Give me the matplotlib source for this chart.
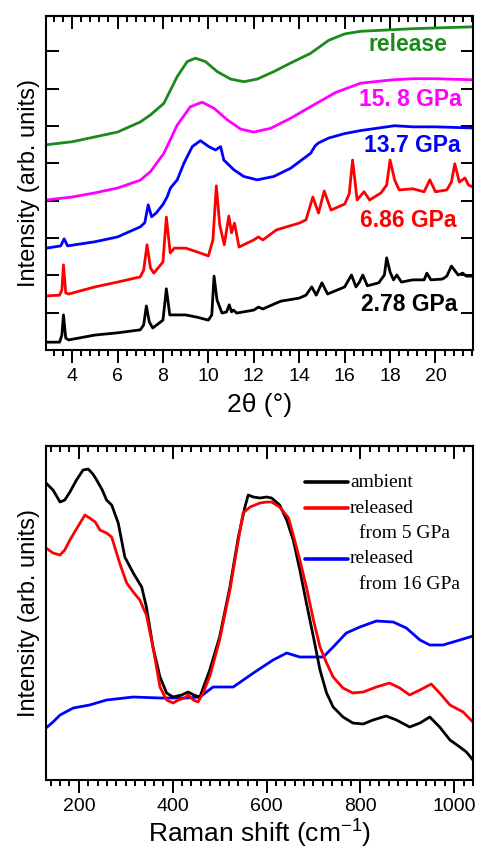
import matplotlib
matplotlib.use("Agg")
import matplotlib.pyplot as plt
from matplotlib.ticker import MultipleLocator, AutoMinorLocator

plt.rcParams['font.family'] = ['Liberation Sans', 'DejaVu Sans']
plt.rcParams['mathtext.default'] = 'regular'

# ---------------- XRD data (top panel) ----------------
x_278 = [2.87, 3.45, 3.55, 3.62, 3.72, 3.85, 5, 6, 7, 7.15, 7.27, 7.4, 7.55, 8.0, 8.15, 8.3, 8.5, 9, 9.5,
         10.0, 10.15, 10.25, 10.38, 10.6, 10.8, 10.92, 11.02, 11.1, 11.25, 12, 12.2, 12.4, 13, 13.2, 14, 14.3,
         14.55, 14.75, 15.0, 15.25, 16.0, 16.3, 16.5, 16.65, 16.8, 17.0, 17.5, 17.75, 17.85, 18.0, 18.15, 18.3,
         18.5, 19.0, 19.5, 19.62, 19.8, 20.3, 20.5, 20.7, 20.9, 21.0, 21.2, 21.35, 21.65]
y_278 = [0.21, 0.21, 0.40, 0.94, 0.32, 0.27, 0.40, 0.46, 0.54, 0.67, 1.18, 0.75, 0.59, 0.80, 1.64, 0.94, 0.94,
         0.94, 0.88, 0.80, 0.94, 1.98, 1.34, 0.99, 1.02, 1.21, 1.02, 1.07, 0.99, 1.07, 1.15, 1.10, 1.26, 1.31,
         1.39, 1.47, 1.69, 1.47, 1.80, 1.50, 1.69, 2.01, 1.69, 1.82, 2.01, 1.72, 1.80, 2.01, 2.47, 2.09, 1.88,
         2.01, 1.82, 1.88, 1.88, 2.06, 1.88, 1.90, 1.98, 2.25, 2.09, 2.01, 2.06, 1.98, 1.98]

x_686 = [2.87, 3.45, 3.55, 3.62, 3.72, 3.85, 5, 6, 7.0, 7.15, 7.3, 7.45, 7.6, 8.0, 8.15, 8.32, 8.5, 9.0, 9.5,
         10.0, 10.2, 10.35, 10.5, 10.7, 10.9, 11.02, 11.15, 11.35, 12.0, 12.2, 12.4, 13, 14, 14.3, 14.6, 14.85,
         15.1, 15.4, 16.0, 16.2, 16.35, 16.55, 16.85, 17.1, 17.6, 17.85, 18.0, 18.2, 18.4, 19.0, 19.5, 19.75,
         20.0, 20.5, 20.7, 20.85, 21.05, 21.3, 21.45, 21.65]
y_686 = [1.45, 1.47, 1.61, 2.28, 1.53, 1.50, 1.69, 1.82, 1.96, 2.14, 2.82, 2.20, 2.06, 2.36, 3.56, 2.60, 2.73,
         2.73, 2.63, 2.52, 2.95, 4.40, 3.35, 2.82, 3.59, 3.14, 3.40, 2.76, 2.95, 3.03, 2.95, 3.22, 3.40, 3.49,
         4.10, 3.67, 4.26, 3.75, 3.91, 4.18, 5.09, 4.02, 4.24, 4.02, 4.21, 4.42, 5.09, 4.56, 4.29, 4.32, 4.24,
         4.56, 4.24, 4.29, 4.50, 4.99, 4.50, 4.61, 4.42, 4.37]

x_137 = [2.87, 3.5, 3.65, 3.8, 5, 6, 7.0, 7.2, 7.35, 7.5, 7.7, 8.0, 8.19, 8.33, 8.63, 8.92, 9.29, 9.65, 10.02,
         10.31, 10.54, 10.68, 11.12, 11.56, 12.15, 12.88, 13.62, 14.5, 14.7, 14.85, 15.3, 16.0, 16.7, 18.2, 19,
         20, 21.65]
y_137 = [2.73, 2.79, 2.98, 2.79, 2.90, 3.03, 3.30, 3.41, 3.89, 3.57, 3.67, 3.90, 4.11, 4.34, 4.56, 5.00, 5.45,
         5.61, 5.45, 5.36, 5.45, 5.09, 4.83, 4.65, 4.56, 4.65, 4.87, 5.27, 5.47, 5.55, 5.68, 5.80, 5.88, 6.01,
         5.98, 5.98, 5.95]

x_158 = [2.87, 4, 5, 6, 7, 7.45, 8.04, 8.63, 9.21, 9.73, 10.24, 10.83, 11.42, 12.0, 12.74, 13.62, 14.5, 15.6,
         16.7, 18.1, 19, 20, 21.65]
y_158 = [4.02, 4.10, 4.21, 4.34, 4.55, 4.78, 5.27, 6.03, 6.52, 6.64, 6.48, 6.17, 5.92, 5.84, 5.94, 6.21, 6.52,
         6.90, 7.15, 7.24, 7.27, 7.27, 7.24]

x_rel = [2.87, 4, 5, 6, 7, 7.45, 8.04, 8.63, 9.07, 9.43, 9.87, 10.39, 10.98, 11.56, 12.15, 12.88, 13.62, 14.5,
         15.3, 16.0, 16.7, 18, 19, 20, 21.65]
y_rel = [5.50, 5.58, 5.71, 5.84, 6.11, 6.30, 6.61, 7.33, 7.73, 7.82, 7.73, 7.46, 7.26, 7.19, 7.26, 7.46, 7.69,
         7.95, 8.30, 8.47, 8.54, 8.58, 8.61, 8.63, 8.66]

xrd_labels = ["2.78 GPa", "6.86 GPa", "13.7 GPa", "15. 8 GPa", "release"]

# ---------------- Raman data (bottom panel) ----------------
r_amb_x = [130, 145, 160, 170, 181, 195, 209, 220, 230, 238, 250, 259, 270, 284, 298, 316, 334, 344, 358, 373,
           387, 401, 419, 433, 445, 458, 479, 500, 522, 540, 554, 561, 572, 586, 600, 611, 628, 643, 657, 671,
           685, 700, 714, 728, 742, 763, 784, 806, 827, 855, 877, 905, 927, 948, 969, 991, 1012, 1026, 1040]
r_amb_y = [2.97, 2.90, 2.78, 2.80, 2.88, 3.00, 3.10, 3.11, 3.06, 3.00, 2.90, 2.80, 2.75, 2.57, 2.23, 2.07, 1.93,
           1.73, 1.33, 1.03, 0.87, 0.83, 0.85, 0.88, 0.85, 0.83, 1.10, 1.43, 1.93, 2.43, 2.73, 2.85, 2.83, 2.82,
           2.83, 2.82, 2.75, 2.60, 2.40, 2.10, 1.77, 1.43, 1.10, 0.87, 0.73, 0.63, 0.57, 0.56, 0.60, 0.64, 0.60,
           0.53, 0.57, 0.63, 0.53, 0.40, 0.33, 0.28, 0.20]

r_5_x = [130, 145, 160, 170, 181, 200, 213, 223, 235, 245, 259, 270, 287, 302, 316, 330, 344, 358, 373, 387,
         401, 412, 425, 433, 444, 454, 465, 480, 500, 522, 540, 550, 565, 586, 600, 611, 628, 647, 657, 671,
         685, 700, 714, 728, 742, 763, 784, 806, 834, 862, 884, 905, 927, 951, 969, 991, 1019, 1040]
r_5_y = [2.32, 2.27, 2.25, 2.30, 2.40, 2.55, 2.65, 2.62, 2.58, 2.50, 2.47, 2.43, 2.17, 1.97, 1.88, 1.80, 1.65,
         1.33, 0.93, 0.80, 0.77, 0.80, 0.82, 0.85, 0.80, 0.78, 0.87, 1.05, 1.40, 1.90, 2.40, 2.67, 2.73, 2.77,
         2.78, 2.78, 2.73, 2.62, 2.45, 2.20, 1.93, 1.60, 1.33, 1.17, 1.03, 0.92, 0.87, 0.88, 0.93, 0.97, 0.92,
         0.85, 0.90, 0.96, 0.87, 0.75, 0.68, 0.58]

r_16_x = [130, 145, 160, 188, 223, 259, 316, 373, 429, 458, 486, 529, 572, 614, 643, 671, 700, 721, 742, 770,
          799, 834, 870, 898, 927, 948, 976, 1012, 1040]
r_16_y = [0.52, 0.58, 0.65, 0.72, 0.75, 0.80, 0.83, 0.82, 0.82, 0.83, 0.93, 0.93, 1.07, 1.20, 1.27, 1.23, 1.23,
          1.23, 1.33, 1.47, 1.53, 1.59, 1.58, 1.52, 1.40, 1.35, 1.35, 1.40, 1.44]

raman_labels = ["ambient", "released", "released"]
raman_sub = ["", "from 5 GPa", "from 16 GPa"]

# ---------------- figure ----------------
fig = plt.figure(figsize=(4.81, 8.52), dpi=100)
ax1 = fig.add_axes([0.0956, 0.5892, 0.8877, 0.392])
ax2 = fig.add_axes([0.0956, 0.0845, 0.8877, 0.392])

lw = 2.0
green = '#1b8a1b'
colors_xrd = ['black', '#ff0000', '#0000ff', '#ff00ff', green]
series = [(x_278, y_278), (x_686, y_686), (x_137, y_137), (x_158, y_158), (x_rel, y_rel)]
label_pos = [(18.86, 1.23), (18.8, 3.46), (19.0, 5.47), (18.9, 6.70), (18.77, 8.18)]
for (xs, ys), c, lab, (tx, ty) in zip(series, colors_xrd, xrd_labels, label_pos):
    ax1.plot(xs, ys, color=c, lw=lw, solid_joinstyle='round')
    ax1.text(tx, ty, lab, color=c, fontsize=16.5, fontweight='bold', ha='center', va='center')

ax1.set_xlim(2.85, 21.65)
ax1.set_ylim(0, 8.95)
ax1.xaxis.set_major_locator(MultipleLocator(2))
ax1.xaxis.set_minor_locator(AutoMinorLocator(5))
ax1.set_yticks([1, 2, 3, 4, 5, 6, 7, 8])
ax1.tick_params(axis='x', which='major', direction='out', length=9, width=1.4, labelsize=14, pad=4)
ax1.tick_params(axis='x', which='minor', direction='out', length=4.5, width=1.4)
ax1.tick_params(axis='y', which='major', direction='in', left=True, right=True, labelleft=False,
                length=9, width=1.4)
ax1.set_xlabel('2θ (°)', fontsize=19, labelpad=6)
ax1.set_ylabel('Intensity (arb. units)', fontsize=17, labelpad=4)

for ax in (ax1, ax2):
    for s in ax.spines.values():
        s.set_linewidth(1.5)

sec1 = ax1.secondary_xaxis('top')
sec1.xaxis.set_major_locator(MultipleLocator(2))
sec1.xaxis.set_minor_locator(AutoMinorLocator(5))
sec1.tick_params(axis='x', which='major', direction='in', length=9, width=1.4, labeltop=False)
sec1.tick_params(axis='x', which='minor', direction='in', length=4.5, width=1.4)
sec1.spines['top'].set_linewidth(1.5)

# bottom panel
ax2.plot(r_16_x, r_16_y, color='#0000ff', lw=lw, solid_joinstyle='round')
ax2.plot(r_amb_x, r_amb_y, color='black', lw=lw, solid_joinstyle='round')
ax2.plot(r_5_x, r_5_y, color='#ff0000', lw=lw, solid_joinstyle='round')
ax2.set_xlim(130, 1040)
ax2.set_ylim(0, 3.34)
ax2.set_yticks([])
ax2.xaxis.set_major_locator(MultipleLocator(200))
ax2.xaxis.set_minor_locator(AutoMinorLocator(10))
ax2.tick_params(axis='x', which='major', direction='out', length=9, width=1.4, labelsize=14, pad=4)
ax2.tick_params(axis='x', which='minor', direction='out', length=4.5, width=1.4)
ax2.set_xlabel('Raman shift (cm$^{-1}$)', fontsize=19, labelpad=2)
ax2.set_ylabel('Intensity (arb. units)', fontsize=17, labelpad=4)

sec2 = ax2.secondary_xaxis('top')
sec2.xaxis.set_major_locator(MultipleLocator(200))
sec2.xaxis.set_minor_locator(AutoMinorLocator(10))
sec2.tick_params(axis='x', which='major', direction='in', length=9, width=1.4, labeltop=False)
sec2.tick_params(axis='x', which='minor', direction='in', length=4.5, width=1.4)
sec2.spines['top'].set_linewidth(1.5)

leg_colors = ['black', '#ff0000', '#0000ff']
leg_y = [0.892, 0.814, 0.662]
for c, lab, sub, yy in zip(leg_colors, raman_labels, raman_sub, leg_y):
    ax2.plot([0.607, 0.707], [yy, yy], color=c, lw=2.6, transform=ax2.transAxes, solid_capstyle='round')
    ax2.text(0.712, yy, lab, transform=ax2.transAxes, fontsize=14, family='Liberation Serif',
             ha='left', va='center')
    if sub:
        ax2.text(0.733, yy - 0.076, sub, transform=ax2.transAxes, fontsize=14, family='Liberation Serif',
                 ha='left', va='center')

fig.savefig('out.png', dpi=100)
